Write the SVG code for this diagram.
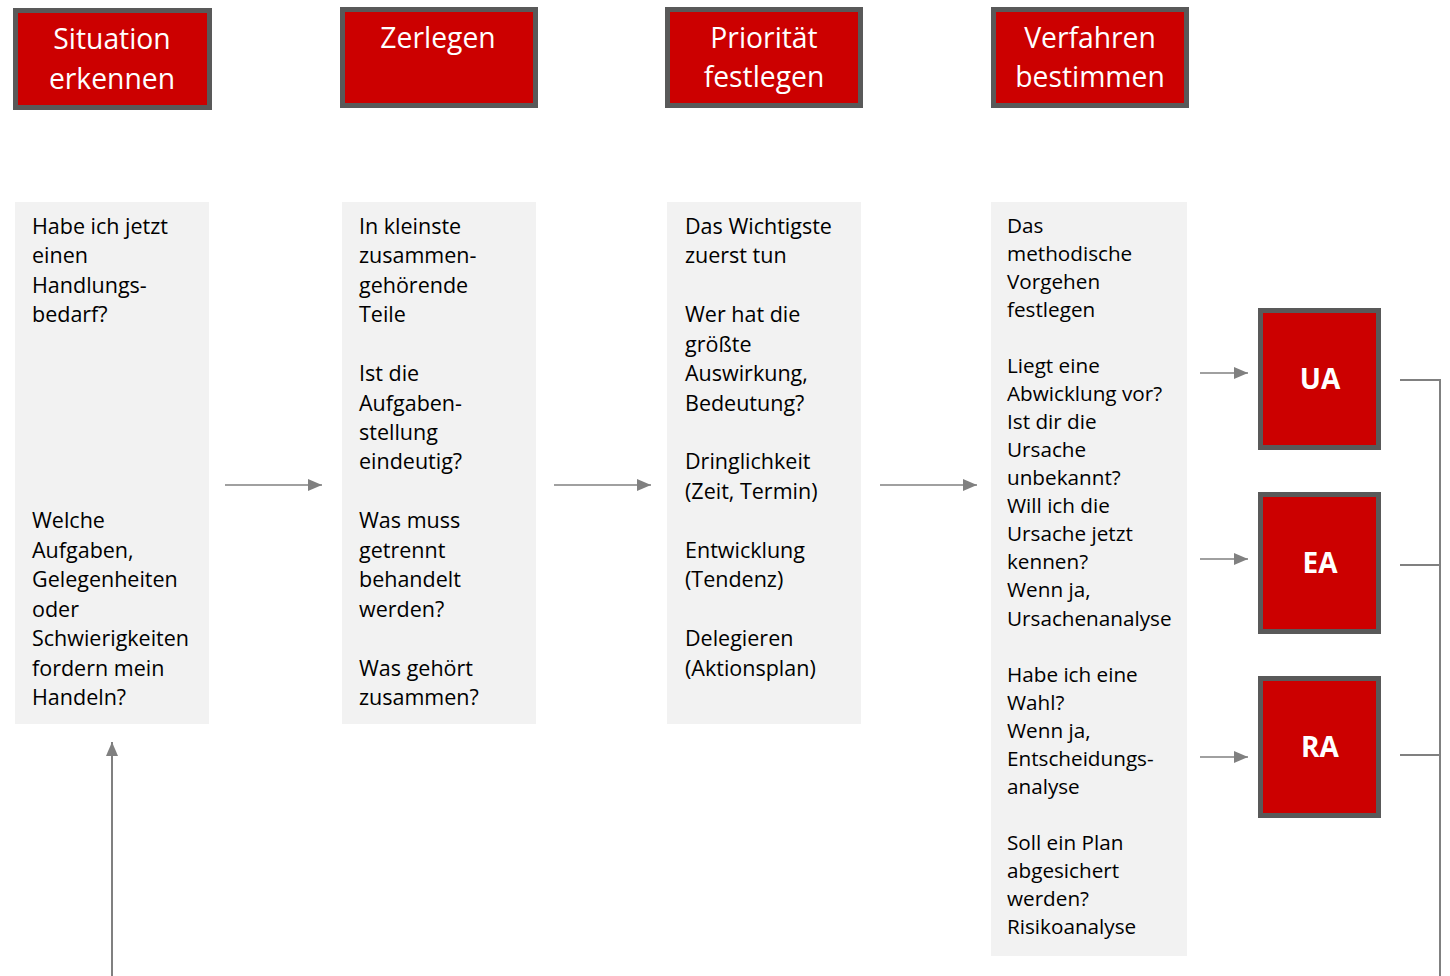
<svg xmlns="http://www.w3.org/2000/svg" width="1450" height="976" viewBox="0 0 1450 976">
<style>
.hbox{fill:#CC0000;stroke:#595959;stroke-width:5}
.htxt{fill:#fff;font-family:"Open Sans","Liberation Sans",sans-serif;font-size:28.3px;text-anchor:middle}
.btxt{fill:#fff;font-family:"Open Sans","Liberation Sans",sans-serif;font-size:28px;font-weight:bold;text-anchor:middle}
.panel{fill:#F2F2F2}
.ptxt{fill:#000;font-family:"Open Sans","Liberation Sans",sans-serif;font-size:21.5px}
.ptxt4{fill:#000;font-family:"Open Sans","Liberation Sans",sans-serif;font-size:20.7px}
.conn{stroke:#808080;stroke-width:1.5;fill:none}
.conn2{stroke:#808080;stroke-width:2;fill:none}
</style>
<defs>
<marker id="ah" markerWidth="14" markerHeight="12" refX="14" refY="6" orient="auto" markerUnits="userSpaceOnUse">
<path d="M0,0 L14,6 L0,12 Z" fill="#808080"/>
</marker>
</defs>

<g id="h1"><rect class="hbox" x="15.5" y="10.5" width="194" height="97"/>
<text class="htxt" x="112" y="49">Situation</text><text class="htxt" x="112" y="89">erkennen</text></g>
<g id="h2"><rect class="hbox" x="342.5" y="9.5" width="193" height="96"/>
<text class="htxt" x="438" y="48">Zerlegen</text></g>
<g id="h3"><rect class="hbox" x="667.5" y="9.5" width="193" height="96"/>
<text class="htxt" x="764" y="48">Priorität</text><text class="htxt" x="764" y="87">festlegen</text></g>
<g id="h4"><rect class="hbox" x="993.5" y="9.5" width="193" height="96"/>
<text class="htxt" x="1090" y="48">Verfahren</text><text class="htxt" x="1090" y="87">bestimmen</text></g>

<g id="p1"><rect class="panel" x="15" y="202" width="194" height="522"/>
<text class="ptxt" x="32"><tspan x="32" y="234">Habe ich jetzt</tspan><tspan x="32" y="263">einen</tspan><tspan x="32" y="293">Handlungs-</tspan><tspan x="32" y="322">bedarf?</tspan><tspan x="32" y="528">Welche</tspan><tspan x="32" y="558">Aufgaben,</tspan><tspan x="32" y="587">Gelegenheiten</tspan><tspan x="32" y="617">oder</tspan><tspan x="32" y="646">Schwierigkeiten</tspan><tspan x="32" y="676">fordern mein</tspan><tspan x="32" y="705">Handeln?</tspan></text></g>

<g id="p2"><rect class="panel" x="342" y="202" width="194" height="522"/>
<text class="ptxt"><tspan x="359" y="234">In kleinste</tspan><tspan x="359" y="263">zusammen-</tspan><tspan x="359" y="293">gehörende</tspan><tspan x="359" y="322">Teile</tspan><tspan x="359" y="381">Ist die</tspan><tspan x="359" y="411">Aufgaben-</tspan><tspan x="359" y="440">stellung</tspan><tspan x="359" y="469">eindeutig?</tspan><tspan x="359" y="528">Was muss</tspan><tspan x="359" y="558">getrennt</tspan><tspan x="359" y="587">behandelt</tspan><tspan x="359" y="617">werden?</tspan><tspan x="359" y="676">Was gehört</tspan><tspan x="359" y="705">zusammen?</tspan></text></g>

<g id="p3"><rect class="panel" x="667" y="202" width="194" height="522"/>
<text class="ptxt"><tspan x="685" y="234">Das Wichtigste</tspan><tspan x="685" y="263">zuerst tun</tspan><tspan x="685" y="322">Wer hat die</tspan><tspan x="685" y="352">größte</tspan><tspan x="685" y="381">Auswirkung,</tspan><tspan x="685" y="411">Bedeutung?</tspan><tspan x="685" y="469">Dringlichkeit</tspan><tspan x="685" y="499">(Zeit, Termin)</tspan><tspan x="685" y="558">Entwicklung</tspan><tspan x="685" y="587">(Tendenz)</tspan><tspan x="685" y="646">Delegieren</tspan><tspan x="685" y="676">(Aktionsplan)</tspan></text></g>

<g id="p4"><rect class="panel" x="991" y="202" width="196" height="754"/>
<text class="ptxt4"><tspan x="1007" y="233">Das</tspan><tspan x="1007" y="261">methodische</tspan><tspan x="1007" y="289">Vorgehen</tspan><tspan x="1007" y="317">festlegen</tspan><tspan x="1007" y="373">Liegt eine</tspan><tspan x="1007" y="401">Abwicklung vor?</tspan><tspan x="1007" y="429">Ist dir die</tspan><tspan x="1007" y="457">Ursache</tspan><tspan x="1007" y="485">unbekannt?</tspan><tspan x="1007" y="513">Will ich die</tspan><tspan x="1007" y="541">Ursache jetzt</tspan><tspan x="1007" y="569">kennen?</tspan><tspan x="1007" y="597">Wenn ja,</tspan><tspan x="1007" y="626">Ursachenanalyse</tspan><tspan x="1007" y="682">Habe ich eine</tspan><tspan x="1007" y="710">Wahl?</tspan><tspan x="1007" y="738">Wenn ja,</tspan><tspan x="1007" y="766">Entscheidungs-</tspan><tspan x="1007" y="794">analyse</tspan><tspan x="1007" y="850">Soll ein Plan</tspan><tspan x="1007" y="878">abgesichert</tspan><tspan x="1007" y="906">werden?</tspan><tspan x="1007" y="934">Risikoanalyse</tspan></text></g>

<g id="ua"><rect class="hbox" x="1260.5" y="310.5" width="118" height="137"/><text class="btxt" x="1320" y="389">UA</text></g>
<g id="ea"><rect class="hbox" x="1260.5" y="494.5" width="118" height="137"/><text class="btxt" x="1320" y="573">EA</text></g>
<g id="ra"><rect class="hbox" x="1260.5" y="678.5" width="118" height="137"/><text class="btxt" x="1320" y="757">RA</text></g>

<g id="connectors">
<line class="conn" x1="225" y1="485" x2="322" y2="485" marker-end="url(#ah)"/>
<line class="conn" x1="554" y1="485" x2="651" y2="485" marker-end="url(#ah)"/>
<line class="conn" x1="880" y1="485" x2="977" y2="485" marker-end="url(#ah)"/>
<line class="conn" x1="1200" y1="373" x2="1248" y2="373" marker-end="url(#ah)"/>
<line class="conn" x1="1200" y1="559" x2="1248" y2="559" marker-end="url(#ah)"/>
<line class="conn" x1="1200" y1="757" x2="1248" y2="757" marker-end="url(#ah)"/>
<polyline class="conn2" points="1400,380 1440,380 1440,976"/>
<line class="conn2" x1="1400" y1="565" x2="1440" y2="565"/>
<line class="conn2" x1="1400" y1="755" x2="1440" y2="755"/>
<line class="conn2" x1="112" y1="976" x2="112" y2="742" marker-end="url(#ah)"/>
</g>
</svg>
